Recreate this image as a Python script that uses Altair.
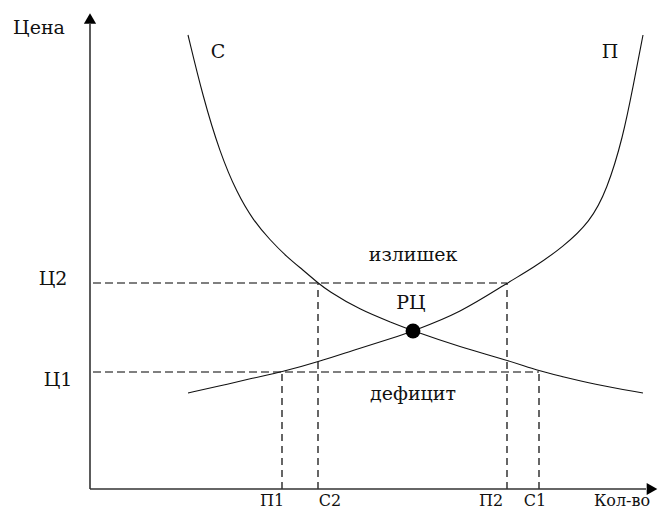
import altair as alt
import pandas as pd

# Quantity / price readings (quantity grows to the right, price grows upward)
demand_q = [98, 113, 130, 147, 163, 180, 197, 213, 228, 237, 270, 303, 323, 370, 417, 449, 470, 503, 553]
demand_p = [454, 392, 336, 296, 269, 249, 232, 219, 206, 199, 179, 166, 158, 142, 129, 118, 113, 105, 96]

supply_q = [98, 130, 163, 192, 228, 270, 303, 323, 370, 417, 443, 473, 500, 517, 533, 543, 553]
supply_p = [96, 103, 111, 117, 127, 141, 151, 158, 176, 206, 221, 242, 267, 299, 352, 402, 454]

equilibrium = {"q": 323, "p": 158}

price_levels = {"Ц2": 206, "Ц1": 117}
quantities = {"П1": 192, "С2": 228, "П2": 417, "С1": 449}

# annotations inside the plot: text, q, p
annotations = [
    ("Цена", -51, 461),
    ("С", 128, 437),
    ("П", 520, 437),
    ("излишек", 323, 234),
    ("РЦ", 321, 186),
    ("дефицит", 323, 95),
    ("Ц2", -37, 210),
    ("Ц1", -32, 109),
]

# labels under the quantity axis: text, q
bottom_labels = [
    ("П1", 182),
    ("С2", 240),
    ("П2", 401),
    ("С1", 445),
    ("Кол-во", 532),
]

axis_ends = {"q_max": 556, "p_max": 465}
arrow_tips = {"q": 562, "p": 470.5}

X = alt.Scale(domain=[-82, 569], zero=False, nice=False)
Y = alt.Scale(domain=[-20, 481], zero=False, nice=False)

demand_df = pd.DataFrame({"q": demand_q, "p": demand_p})
supply_df = pd.DataFrame({"q": supply_q, "p": supply_p})

demand = alt.Chart(demand_df).mark_line(
    color="#111", strokeWidth=1.1, interpolate="basis"
).encode(x=alt.X("q:Q", scale=X, axis=None), y=alt.Y("p:Q", scale=Y, axis=None))

supply = alt.Chart(supply_df).mark_line(
    color="#111", strokeWidth=1.1, interpolate="basis"
).encode(x=alt.X("q:Q", scale=X, axis=None), y=alt.Y("p:Q", scale=Y, axis=None))

h_df = pd.DataFrame({
    "q0": [3, 3],
    "q1": [quantities["П2"], quantities["С1"]],
    "p": [price_levels["Ц2"], price_levels["Ц1"]],
})
hlines = alt.Chart(h_df).mark_rule(color="#000", strokeWidth=1.2, strokeDash=[8, 4]).encode(
    x=alt.X("q0:Q", scale=X, axis=None), x2="q1:Q", y=alt.Y("p:Q", scale=Y, axis=None)
)

v_df = pd.DataFrame({
    "q": [quantities["П1"], quantities["С2"], quantities["П2"], quantities["С1"]],
    "p0": [0, 0, 0, 0],
    "p1": [price_levels["Ц1"], price_levels["Ц2"], price_levels["Ц2"], price_levels["Ц1"]],
})
vlines = alt.Chart(v_df).mark_rule(color="#000", strokeWidth=1.2, strokeDash=[7, 5]).encode(
    x=alt.X("q:Q", scale=X, axis=None), y=alt.Y("p0:Q", scale=Y, axis=None), y2="p1:Q"
)

ax_df = pd.DataFrame({"q0": [0, 0], "q1": [axis_ends["q_max"], 0],
                      "p0": [0, 0], "p1": [0, axis_ends["p_max"]]})
axes = alt.Chart(ax_df).mark_rule(color="#333", strokeWidth=1.6).encode(
    x=alt.X("q0:Q", scale=X, axis=None), x2="q1:Q",
    y=alt.Y("p0:Q", scale=Y, axis=None), y2="p1:Q"
)

up_df = pd.DataFrame({"q": [0], "p": [arrow_tips["p"]]})
up_arrow = alt.Chart(up_df).mark_point(
    shape="triangle-up", filled=True, color="#000", size=150, opacity=1
).encode(x=alt.X("q:Q", scale=X, axis=None), y=alt.Y("p:Q", scale=Y, axis=None))

right_df = pd.DataFrame({"q": [arrow_tips["q"]], "p": [0]})
right_arrow = alt.Chart(right_df).mark_point(
    shape="triangle-right", filled=True, color="#000", size=150, opacity=1
).encode(x=alt.X("q:Q", scale=X, axis=None), y=alt.Y("p:Q", scale=Y, axis=None))

eq_df = pd.DataFrame({"q": [equilibrium["q"]], "p": [equilibrium["p"]]})
eq_point = alt.Chart(eq_df).mark_point(
    shape="circle", filled=True, color="#000", size=220, opacity=1
).encode(x=alt.X("q:Q", scale=X, axis=None), y=alt.Y("p:Q", scale=Y, axis=None))

txt_df = pd.DataFrame(annotations, columns=["label", "q", "p"])
texts = alt.Chart(txt_df).mark_text(
    font="DejaVu Serif", fontSize=19, color="#111", align="center", baseline="middle"
).encode(
    x=alt.X("q:Q", scale=X, axis=None), y=alt.Y("p:Q", scale=Y, axis=None), text="label:N"
)

bot_df = pd.DataFrame(bottom_labels, columns=["label", "q"])
bottom_texts = alt.Chart(bot_df).mark_text(
    font="DejaVu Serif", fontSize=16, color="#111", align="center", baseline="alphabetic"
).encode(
    x=alt.X("q:Q", scale=X, axis=None), y=alt.value(498), text="label:N"
)

chart = alt.layer(
    hlines, vlines, demand, supply, axes, up_arrow, right_arrow, eq_point, texts, bottom_texts
).properties(
    width=651, height=501,
    autosize=alt.AutoSizeParams(type="none"),
    padding=0,
    background="white",
).configure_view(stroke=None)

chart.save("out.html", embed_options={"renderer": "svg", "actions": False})
